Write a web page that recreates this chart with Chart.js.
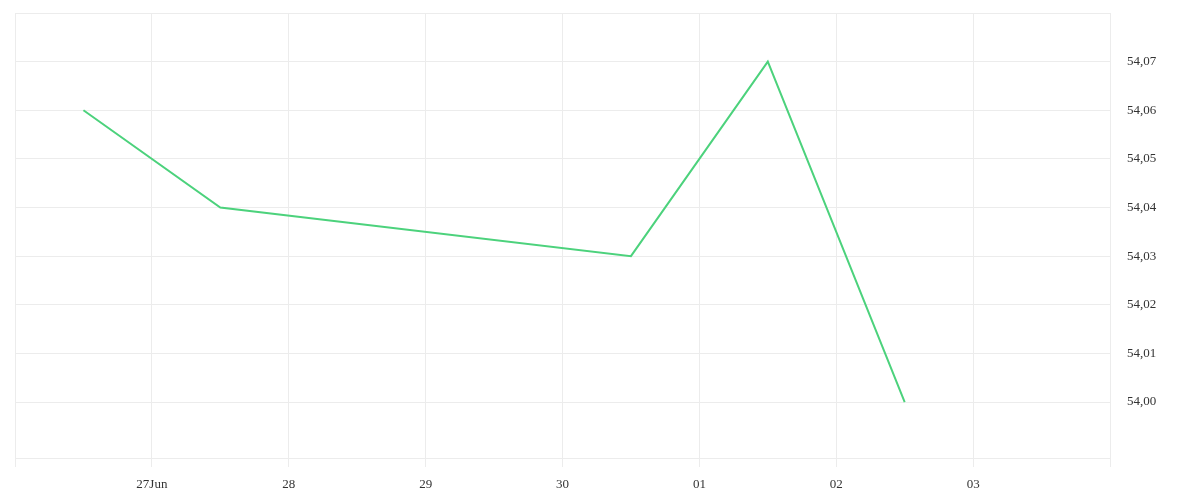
<!DOCTYPE html>
<html>
<head>
<meta charset="utf-8">
<script src="https://cdn.jsdelivr.net/npm/chart.js@4"></script>
<style>
    html, body { margin: 0; padding: 0; background: #fff; }
    #wrap { width: 1200px; height: 500px; }
</style>
</head>
<body>
<div id="wrap"><canvas id="chart"></canvas></div>
<script>
// Days counted from 26 Jun 00:00, points sit at midday
const pointDays = [0.5, 1.5, 4.5, 5.5, 6.5];
const prices = [54.06, 54.04, 54.03, 54.07, 54.00];
const dayLabels = ['', '27Jun', '28', '29', '30', '01', '02', '03', ''];
const priceTicks = [54.00, 54.01, 54.02, 54.03, 54.04, 54.05, 54.06, 54.07, 54.08];

const gridColor = '#ececec';
const textColor = '#333';

Chart.defaults.font.family = '"Liberation Serif", "DejaVu Serif", serif';
Chart.defaults.font.size = 13;
Chart.defaults.color = textColor;

const ctx = document.getElementById('chart').getContext('2d');
new Chart(ctx, {
    type: 'line',
    data: {
        datasets: [{
            data: pointDays.map((d, i) => ({ x: d, y: prices[i] })),
            borderColor: '#4cd27c',
            borderWidth: 2,
            pointRadius: 0,
            tension: 0,
            fill: false
        }]
    },
    options: {
        responsive: true,
        maintainAspectRatio: false,
        animation: false,
        layout: { padding: { left: 15, top: 13, right: 0, bottom: 0 } },
        plugins: { legend: { display: false }, tooltip: { enabled: false } },
        scales: {
            x: {
                type: 'linear',
                min: 0,
                max: dayLabels.length - 1,
                afterBuildTicks: function(axis) {
                    axis.ticks = dayLabels.map((_, i) => ({ value: i }));
                },
                afterFit: function(axis) {
                    axis.height = 42;
                    axis.paddingLeft = 0;
                    axis.paddingRight = 0;
                },
                grid: { color: gridColor, tickLength: 9, drawTicks: true },
                border: { color: gridColor },
                ticks: {
                    padding: 10,
                    maxRotation: 0,
                    autoSkip: false,
                    callback: function(value) { return dayLabels[value]; }
                }
            },
            y: {
                position: 'right',
                min: 53.9885,
                max: 54.08,
                afterBuildTicks: function(axis) {
                    axis.ticks = priceTicks.map(v => ({ value: v }));
                },
                afterFit: function(axis) {
                    axis.width = 90;
                    axis.paddingTop = 0;
                    axis.paddingBottom = 0;
                },
                grid: { color: gridColor, drawTicks: false },
                border: { color: gridColor },
                ticks: {
                    padding: 17,
                    autoSkip: false,
                    callback: function(value) {
                        if (value > 54.075) return '';
                        return value.toFixed(2).replace('.', ',');
                    }
                }
            }
        }
    }
});
</script>
</body>
</html>
